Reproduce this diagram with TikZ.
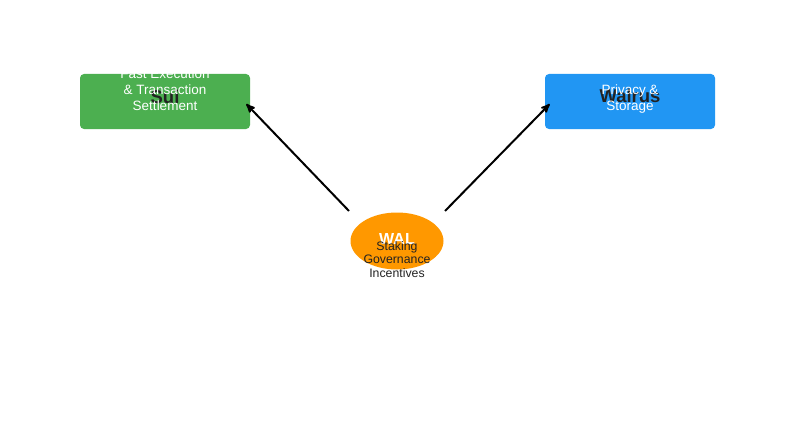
\documentclass[tikz,border=0pt]{standalone}
\usepackage{fontspec}
\setmainfont{Liberation Sans}
\usetikzlibrary{shapes,arrows}
\usetikzlibrary{positioning,calc}
\definecolor{suigreen}{HTML}{4CAF50}
\definecolor{walrusblue}{HTML}{2196F3}
\definecolor{walorange}{HTML}{FF9800}
\definecolor{darktext}{HTML}{222222}

\begin{document}
\begin{tikzpicture}[->, >=stealth', semithick, x=1pt, y=-1pt]
\tikzstyle{every node}=[inner sep=0pt]
\tikzstyle{chain}=[rectangle, rounded corners=4pt, minimum width=170pt, minimum height=55pt]
\tikzstyle{title}=[text=darktext, font=\fontsize{18.5}{20}\selectfont\bfseries]
\tikzstyle{sub}=[text=white, align=center, font=\fontsize{13.5}{16}\selectfont]
\tikzstyle{note}=[text=darktext, align=center, font=\fontsize{12.3}{13.5}\selectfont]
\useasboundingbox (0,0) rectangle (794,433);
\node[chain, fill=suigreen]    (sui)    at (165,101.5) {};
\node[chain, fill=walrusblue]  (walrus) at (630,101.5) {};
\node[ellipse, fill=walorange, minimum width=93pt, minimum height=57pt] (wal) at (397,241) {};
\node[title] (suit)    at (165,97) {Sui};
\node[sub]   (suis)    at (165,90) {Fast Execution\\ \& Transaction\\ Settlement};
\node[title] (walrust) at (630,96) {Walrus};
\node[sub]   (walruss) at (630,99) {Privacy \&\\ Storage};
\node[text=white, font=\fontsize{16}{18}\selectfont\bfseries] (walt) at (397,239) {WAL};
\node[note]  (waln)    at (397,259.5) {Staking\\ Governance\\ Incentives};
\coordinate (wl) at (349,211);
\coordinate (wr) at (445,211);
\path[line width=2pt]
(wl) edge ($(sui.east)+(-4,2.5)$)
(wr) edge ($(walrus.west)+(5,2.5)$);
\end{tikzpicture}
\end{document}
